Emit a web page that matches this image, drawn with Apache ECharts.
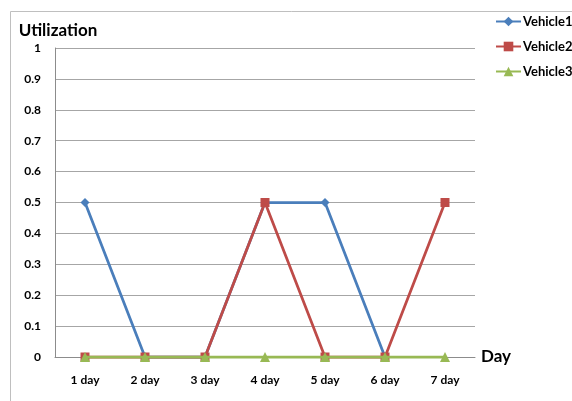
<!DOCTYPE html>
<html>
<head>
<meta charset="utf-8">
<script src="https://cdn.jsdelivr.net/npm/echarts@6/dist/echarts.min.js"></script>
<style>
  html, body { margin: 0; padding: 0; background: #fff; }
  #chart { width: 572px; height: 401px; }
</style>
</head>
<body>
<div id="chart"></div>
<script>
// Daily utilization per vehicle
const days = ['1 day', '2 day', '3 day', '4 day', '5 day', '6 day', '7 day'];
const vehicle1 = [0.5, 0, 0, 0.5, 0.5, 0, null];
const vehicle2 = [0, 0, 0, 0.5, 0, 0, 0.5];
const vehicle3 = [0, 0, 0, 0, 0, 0, 0];
const yTicks = [0, 0.1, 0.2, 0.3, 0.4, 0.5, 0.6, 0.7, 0.8, 0.9, 1];

const FONT = 'Lato, "Open Sans", sans-serif';
const chart = echarts.init(document.getElementById('chart'), null, { renderer: 'canvas' });

function lineSeries(name, data, color, symbol, size, z) {
  return {
    name, type: 'line', data, z,
    symbol, symbolSize: size,
    clip: false,
    lineStyle: { color, width: 2.75 },
    itemStyle: { color },
    animation: false
  };
}

chart.setOption({
  animation: false,
  graphic: [{
    type: 'rect', left: 8, top: 9, silent: true,
    shape: { width: 600, height: 420 },
    style: { fill: 'none', stroke: '#bfbfbf', lineWidth: 1 }
  }],
  legend: {
    orient: 'vertical', left: 490, top: 10,
    itemWidth: 25, itemHeight: 12, itemGap: 12,
    textStyle: { fontFamily: FONT, fontWeight: 'bold', fontSize: 13, color: '#000', padding: [0, 0, 0, -3] },
    data: ['Vehicle1', 'Vehicle2', 'Vehicle3']
  },
  grid: { left: 55, right: 97, top: 48, bottom: 44 },
  xAxis: {
    type: 'category', data: days, boundaryGap: true,
    name: 'Day', nameLocation: 'end', nameGap: 6,
    nameTextStyle: { fontFamily: FONT, fontWeight: 'bold', fontSize: 17, color: '#000', verticalAlign: 'middle', padding: [0, 0, 4, 0] },
    axisLine: { lineStyle: { color: '#8c8c8c', width: 1 } },
    axisTick: { show: false },
    axisLabel: { fontFamily: FONT, fontWeight: 'bold', fontSize: 12, color: '#000', margin: 17 }
  },
  yAxis: {
    type: 'value', min: 0, max: 1, interval: 0.1,
    name: 'Utilization', nameLocation: 'end', nameGap: 9,
    nameTextStyle: { fontFamily: FONT, fontWeight: 'bold', fontSize: 17, color: '#000', align: 'center', padding: [0, 0, 0, 6] },
    axisLine: { show: true, lineStyle: { color: '#8c8c8c', width: 1 } },
    axisTick: { show: false },
    splitLine: { lineStyle: { color: '#a6a6a6', width: 1 } },
    axisLabel: {
      fontFamily: FONT, fontWeight: 'bold', fontSize: 12, color: '#000', margin: 14,
      formatter: v => {
        const t = yTicks.find(x => Math.abs(x - v) < 1e-9);
        return t === undefined ? '' : String(t);
      }
    }
  },
  series: [
    lineSeries('Vehicle1', vehicle1, '#4a7ebb', 'diamond', 9, 2),
    lineSeries('Vehicle2', vehicle2, '#be4b48', 'rect', 9, 3),
    lineSeries('Vehicle3', vehicle3, '#98b954', 'triangle', 10, 4)
  ]
});
</script>
</body>
</html>
